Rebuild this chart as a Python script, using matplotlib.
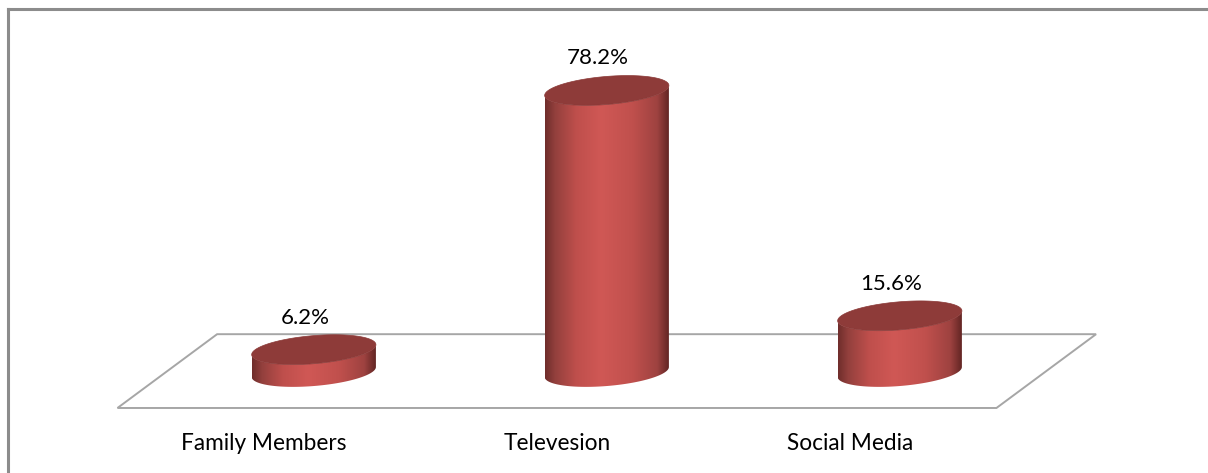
import numpy as np
import matplotlib.pyplot as plt
from matplotlib.patches import Polygon
from matplotlib.colors import LinearSegmentedColormap
from matplotlib.lines import Line2D

categories = ["Family Members", "Televesion", "Social Media"]
values = [6.2, 78.2, 15.6]
labels = ["6.2%", "78.2%", "15.6%"]

plt.rcParams['font.family'] = ['Lato', 'DejaVu Sans']

fig = plt.figure(figsize=(12.08, 4.73), dpi=100)
ax = fig.add_axes([0, 0, 1, 1])
ax.set_xlim(-0.901, 3.222)
ax.set_ylim(-28.06, 103.33)
ax.axis('off')

# outer chart border
fig.add_artist(Line2D([8 / 1208, 8 / 1208], [0, 1 - 9 / 473], color='#8c8c8c', lw=2.2))
fig.add_artist(Line2D([8 / 1208, 1], [1 - 9 / 473, 1 - 9 / 473], color='#8c8c8c', lw=2.2))

# floor (3d depth offset)
n = len(categories)
dx, dy = 0.34, 20.5
front = -10
floor = Polygon([(-0.5, front), (n - 0.5, front), (n - 0.5 + dx, front + dy), (-0.5 + dx, front + dy)],
                closed=True, facecolor='white', edgecolor='#a6a6a6', lw=1.4, zorder=1)
ax.add_patch(floor)

side_cmap = LinearSegmentedColormap.from_list(
    'cyl', [(0, '#6f2d2b'), (0.08, '#93403d'), (0.25, '#bf4f4c'), (0.45, '#d05855'),
            (0.7, '#c0504d'), (0.9, '#9e4240'), (1, '#5e2321')])

a = 0.212   # half width (x units)
b = 3.9     # half height of ellipse (y units)
s = -6.5    # tilt of ellipse
t = np.linspace(0, 2 * np.pi, 200)
tt = np.linspace(np.pi, 2 * np.pi, 100)

for i, v in enumerate(values):
    cx = i + dx / 2
    # side: lower half of bottom ellipse, then upper-side edge of top ellipse back
    bot_x = cx + a * np.cos(tt)
    bot_y = b * np.sin(tt) - s * (bot_x - cx)
    top_x = cx + a * np.cos(tt[::-1])
    top_y = v + b * np.sin(tt[::-1]) - s * (top_x - cx)
    side_pts = np.column_stack([np.concatenate([bot_x, top_x]), np.concatenate([bot_y, top_y])])
    side = Polygon(side_pts, closed=True, facecolor='none', edgecolor='none', zorder=3)
    ax.add_patch(side)
    grad = np.linspace(0, 1, 256).reshape(1, -1)
    im = ax.imshow(grad, cmap=side_cmap, aspect='auto', zorder=3,
                   extent=[cx - a, cx + a, -b - 5, v + b + 5], interpolation='bilinear')
    im.set_clip_path(side)

    # top ellipse
    ex = cx + a * np.cos(t)
    ey = v + b * np.sin(t) - s * (ex - cx)
    top = Polygon(np.column_stack([ex, ey]), closed=True, facecolor='#8e3b39',
                  edgecolor='#8a3836', lw=0.5, zorder=4)
    ax.add_patch(top)

    ax.text(cx - 0.03, v + b + 5, labels[i], ha='center', va='center', fontsize=16, color='black')
    ax.text(i, -20, categories[i], ha='center', va='center', fontsize=16.3, color='black')

fig.savefig('out.png', dpi=100)
